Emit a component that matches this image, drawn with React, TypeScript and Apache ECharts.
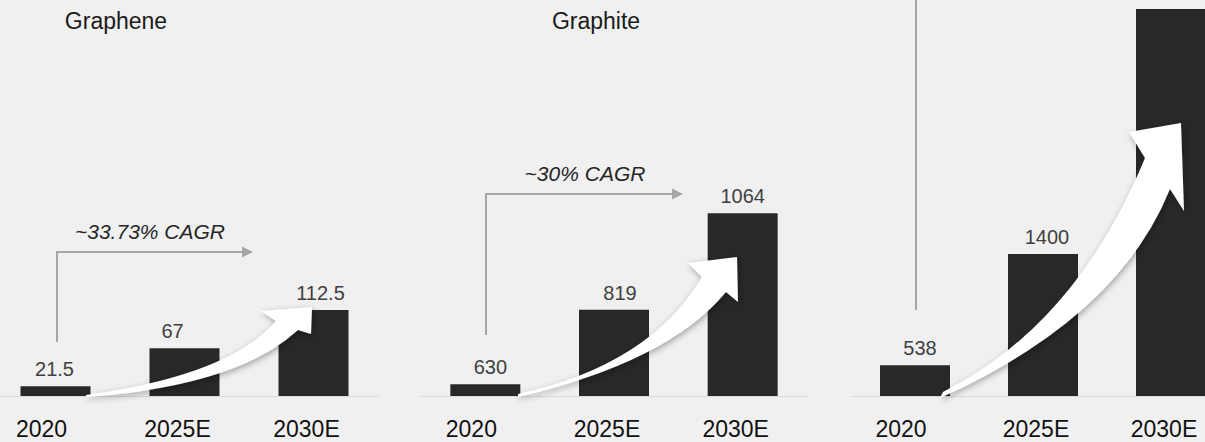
import React, { useEffect, useRef } from "react";
import * as echarts from "echarts";

// ---- data ----
const categories = ["2020", "2025E", "2030E"];
const grapheneValues = [21.5, 67, 112.5];
const graphiteValues = [630, 819, 1064];
const thirdPanelValues = [538, 1400, 3300]; // last label is cut off in the reference
const panelTitles = ["Graphene", "Graphite"];
const cagrLabels = ["~33.73% CAGR", "~30% CAGR"];

// ---- styling / layout ----
const FONT = "'Liberation Sans', Arial, Helvetica, sans-serif";
const BG = "#f0f0f0";
const BAR = "#282828";
const GRAY = "#a6a6a6";
const yMins = [10, 600, 300];
const yMaxs = [482, 1605, 3370];
const gridLefts = [-9, 421, 851];
const gridWidths = [387, 386, 384];
const labelOffsets = [
  [[-1, 0], [-12, 0], [7, 0]],
  [[5, 0], [6, 0], [0, 0]],
  [[5, 0], [4, 0], [0, 0]],
];
const hiddenLabels = [[], [], [2]];

const arrowPaths = [
  "M86 395 Q230 375 276 321 L261 311 L312 307 L311 334 L298 330 Q237 386 86 397 Z",
  "M518 394 Q650 365 702 277 L688 263 L737 257 L738 302 L726 292 Q668 362 518 397 Z",
  "M943 392 Q1076 325 1145 158 L1129 132 L1181 123 L1184 211 L1170 189 Q1118 318 940 398 Z",
];

let registered = false;
function registerArrows() {
  if (registered) return;
  arrowPaths.forEach((d, i) => {
    echarts.graphic.registerShape("curvedArrow" + i, echarts.graphic.extendPath(d, {}));
  });
  registered = true;
}

export default function App() {
  const ref = useRef<HTMLDivElement>(null);

  useEffect(() => {
    if (!ref.current) return;
    registerArrows();
    const chart = echarts.init(ref.current, null, { renderer: "svg" });

    const allValues = [grapheneValues, graphiteValues, thirdPanelValues];

    const grids = gridLefts.map((l, i) => ({
      left: l,
      width: gridWidths[i],
      top: 0,
      height: 396,
      containLabel: false,
      outerBoundsMode: "none",
    }));

    const xAxes = allValues.map((_, i) => ({
      type: "category",
      gridIndex: i,
      data: categories.map((c, j) => ({
        value: c,
        textStyle: { padding: j === 0 ? [0, 28, 0, 0] : [0, 14, 0, 0] },
      })),
      axisLine: { show: true, lineStyle: { color: "#d9d9d9", width: 1 } },
      axisTick: { show: false },
      axisLabel: { fontSize: 23, color: "#111111", margin: 21, fontFamily: FONT },
    }));

    const yAxes = allValues.map((_, i) => ({
      type: "value",
      gridIndex: i,
      min: yMins[i],
      max: yMaxs[i],
      show: false,
      splitLine: { show: false },
    }));

    const series = allValues.map((vals, i) => ({
      type: "bar",
      xAxisIndex: i,
      yAxisIndex: i,
      barWidth: 70,
      itemStyle: { color: BAR },
      label: {
        show: true,
        position: "top",
        distance: 7,
        fontSize: 20,
        color: "#404040",
        fontFamily: FONT,
      },
      data: vals.map((v, j) => ({
        value: v,
        label: {
          show: !hiddenLabels[i].includes(j),
          offset: labelOffsets[i][j],
        },
      })),
    }));

    const titlePos = [
      [116, 21],
      [596, 21],
    ];
    const cagrPos = [
      [150, 231],
      [585, 173],
    ];

    const graphics: any[] = [];
    panelTitles.forEach((t, i) => {
      graphics.push({
        type: "text",
        x: titlePos[i][0],
        y: titlePos[i][1],
        z: 10,
        style: {
          text: t,
          fill: "#1a1a1a",
          font: `23px ${FONT}`,
          textAlign: "center",
          textVerticalAlign: "middle",
        },
      });
    });
    cagrLabels.forEach((t, i) => {
      graphics.push({
        type: "text",
        x: cagrPos[i][0],
        y: cagrPos[i][1],
        z: 10,
        style: {
          text: t,
          fill: "#262626",
          font: `italic 21px ${FONT}`,
          textAlign: "center",
          textVerticalAlign: "middle",
        },
      });
    });

    // CAGR brackets
    const brackets = [
      { pts: [[57, 342], [57, 252], [244, 252]], head: [[242, 246.5], [253, 252], [242, 257.5]] },
      { pts: [[486, 335], [486, 194], [674, 194]], head: [[672, 188.5], [683, 194], [672, 199.5]] },
    ];
    brackets.forEach((b) => {
      graphics.push({
        type: "polyline",
        z: 5,
        shape: { points: b.pts },
        style: { stroke: GRAY, lineWidth: 2, fill: null },
      });
      graphics.push({
        type: "polygon",
        z: 5,
        shape: { points: b.head },
        style: { fill: GRAY, stroke: null },
      });
    });
    graphics.push({
      type: "line",
      z: 5,
      shape: { x1: 916, y1: 0, x2: 916, y2: 310 },
      style: { stroke: GRAY, lineWidth: 2 },
    });

    // white curved arrows
    arrowPaths.forEach((_, i) => {
      graphics.push({
        type: "curvedArrow" + i,
        x: 0,
        y: 0,
        z: 100,
        style: {
          fill: "#ffffff",
          stroke: null,
          shadowBlur: 6,
          shadowColor: "rgba(0,0,0,0.35)",
          shadowOffsetX: 1,
          shadowOffsetY: 2,
        },
      });
    });

    chart.setOption({
      animation: false,
      backgroundColor: BG,
      textStyle: { fontFamily: FONT },
      grid: grids,
      xAxis: xAxes,
      yAxis: yAxes,
      series,
      graphic: graphics,
    } as any);

    return () => chart.dispose();
  }, []);

  return (
    <div
      ref={ref}
      style={{ position: "fixed", left: 0, top: 0, width: 1205, height: 442, background: BG }}
    />
  );
}
